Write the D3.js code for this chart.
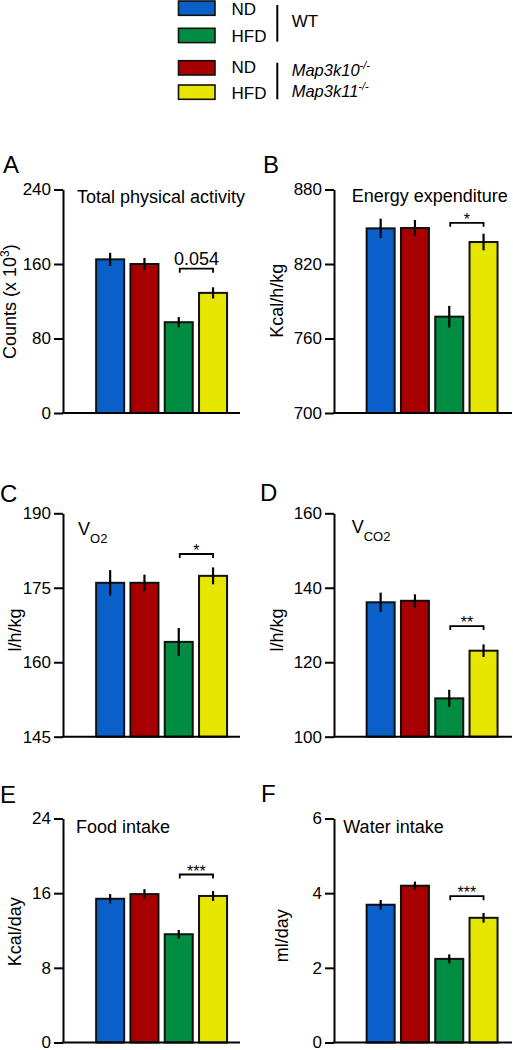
<!DOCTYPE html>
<html><head><meta charset="utf-8">
<script src="https://cdn.jsdelivr.net/npm/d3@7"></script>
<style>
html,body{margin:0;padding:0;background:#fff;}
text{font-family:Arial,"Liberation Sans",Helvetica,sans-serif;fill:#000;}
</style></head>
<body>
<svg id="chart" width="513" height="1050"></svg>
<script>
// ---- data ----
const categories = ["WT ND", "Map3k10/11 ND", "WT HFD", "Map3k10/11 HFD"];
const barColors = ["#0a5fc8", "#a80000", "#008c41", "#e6e600"];

const activityMean = [165, 160, 97.5, 129];
const activitySem  = [7, 6.5, 5.5, 6];
const activityTicks = [0, 80, 160, 240];

const energyMean = [848.7, 849, 777.6, 837.7];
const energySem  = [7.8, 6.4, 8.7, 6.7];
const energyTicks = [700, 760, 820, 880];

const vo2Mean = [176.0, 176.0, 164.1, 177.4];
const vo2Sem  = [2.55, 1.65, 2.8, 1.7];
const vo2Ticks = [145, 160, 175, 190];

const vco2Mean = [136.1, 136.5, 110.3, 123.1];
const vco2Sem  = [2.6, 1.75, 2.3, 1.7];
const vco2Ticks = [100, 120, 140, 160];

const foodMean = [15.4, 15.9, 11.6, 15.7];
const foodSem  = [0.5, 0.53, 0.45, 0.53];
const foodTicks = [0, 8, 16, 24];

const waterMean = [3.69, 4.2, 2.24, 3.34];
const waterSem  = [0.13, 0.11, 0.12, 0.13];
const waterTicks = [0, 2, 4, 6];

const sigLabels = ["0.054", "*", "*", "**", "***", "***"];
const sigLevels = [155, 853.2, 181.8, 129.7, 18.0, 3.92];

const legendDiet = ["ND", "HFD", "ND", "HFD"];

// ---- layout ----
const svg = d3.select("#chart");
const cols = [
  {axisX: 63, xEnd: 240, band: [93, 230.2]},
  {axisX: 334, xEnd: 512, band: [363.5, 500.7]}
];
const rows = [
  {top: 189.5, bottom: 413},
  {top: 513.3, bottom: 736.7},
  {top: 818.5, bottom: 1042.5}
];

const panels = [
  {letter:"A", col:0, row:0, mean:activityMean, sem:activitySem, ticks:activityTicks,
   title:"Total physical activity", ylabel:"Counts", sig:0,
   letterPos:[3,172.7], titlePos:[77,202.7], ylabPos:[16,301.7]},
  {letter:"B", col:1, row:0, mean:energyMean, sem:energySem, ticks:energyTicks,
   title:"Energy expenditure", ylabel:"Kcal/h/kg", sig:1,
   letterPos:[263,173.3], titlePos:[351.7,202], ylabPos:[283,300.8]},
  {letter:"C", col:0, row:1, mean:vo2Mean, sem:vo2Sem, ticks:vo2Ticks,
   title:"V", sub:"O2", ylabel:"l/h/kg", sig:2,
   letterPos:[0,501.7], titlePos:[78,535], ylabPos:[20.5,630]},
  {letter:"D", col:1, row:1, mean:vco2Mean, sem:vco2Sem, ticks:vco2Ticks,
   title:"V", sub:"CO2", ylabel:"l/h/kg", sig:3,
   letterPos:[260,500.7], titlePos:[351.7,533], ylabPos:[283,630]},
  {letter:"E", col:0, row:2, mean:foodMean, sem:foodSem, ticks:foodTicks,
   title:"Food intake", ylabel:"Kcal/day", sig:4,
   letterPos:[0,803.3], titlePos:[76,833.3], ylabPos:[21,931.7]},
  {letter:"F", col:1, row:2, mean:waterMean, sem:waterSem, ticks:waterTicks,
   title:"Water intake", ylabel:"ml/day", sig:5,
   letterPos:[261,801.7], titlePos:[343.3,833.3], ylabPos:[288,935.8]}
];

panels.forEach(p => {
  const c = cols[p.col], r = rows[p.row];
  const g = svg.append("g");
  const y = d3.scaleLinear().domain([p.ticks[0], p.ticks[p.ticks.length-1]]).range([r.bottom, r.top]);
  const x = d3.scaleBand().domain(categories).range(c.band).paddingInner(0.125).paddingOuter(0.0625);

  // bars
  g.selectAll("rect.bar").data(categories).join("rect")
    .attr("class","bar")
    .attr("x", d => x(d) + 1)
    .attr("width", x.bandwidth() - 2)
    .attr("y", (d,i) => y(p.mean[i]))
    .attr("height", (d,i) => y(p.ticks[0]) - y(p.mean[i]))
    .attr("fill", (d,i) => barColors[i])
    .attr("stroke", "#111").attr("stroke-width", 2);

  // error bars
  g.selectAll("line.err").data(categories).join("line")
    .attr("class","err")
    .attr("x1", d => x(d) + x.bandwidth()/2)
    .attr("x2", d => x(d) + x.bandwidth()/2)
    .attr("y1", (d,i) => y(p.mean[i] - p.sem[i]))
    .attr("y2", (d,i) => y(p.mean[i] + p.sem[i]))
    .attr("stroke", "#000").attr("stroke-width", 2.2);

  // y axis
  const ax = g.append("g").attr("transform", `translate(${c.axisX},0)`)
    .call(d3.axisLeft(y).tickValues(p.ticks).tickSize(9).tickSizeOuter(0).tickPadding(3).tickFormat(d3.format("d")));
  ax.select(".domain").attr("stroke","#000").attr("stroke-width",2);
  ax.selectAll(".tick line").attr("stroke","#000").attr("stroke-width",2);
  ax.selectAll(".tick text").style("font-size","17px").attr("fill","#000")
    .style("font-family","Arial, 'Liberation Sans', sans-serif");

  // x axis line
  g.append("line").attr("x1", c.axisX - 1).attr("x2", c.xEnd)
    .attr("y1", y(p.ticks[0])).attr("y2", y(p.ticks[0]))
    .attr("stroke","#000").attr("stroke-width",2);

  // significance bracket
  const xa = x(categories[2]) + x.bandwidth()/2 + 1;
  const xb = x(categories[3]) + x.bandwidth()/2;
  const by = y(sigLevels[p.sig]);
  g.append("path").attr("d", `M${xa},${by+4}V${by}H${xb}V${by+4}`)
    .attr("fill","none").attr("stroke","#000").attr("stroke-width",1.8);
  const lbl = sigLabels[p.sig];
  const isStar = lbl.indexOf("*") >= 0;
  g.append("text").attr("x", (xa+xb)/2).attr("y", isStar ? by + 2 : by - 3.3)
    .attr("text-anchor","middle").style("font-size", isStar ? "16px" : "18px").text(lbl);

  // panel letter
  g.append("text").attr("x", p.letterPos[0]).attr("y", p.letterPos[1])
    .style("font-size","24px").text(p.letter);

  // title
  const t = g.append("text").attr("x", p.titlePos[0]).attr("y", p.titlePos[1]).style("font-size","18px");
  t.append("tspan").text(p.title);
  if (p.sub) t.append("tspan").attr("dy", 8).style("font-size","13px").text(p.sub);

  // y label
  const yl = g.append("text").attr("transform", `translate(${p.ylabPos[0]},${p.ylabPos[1]}) rotate(-90)`)
    .attr("text-anchor","middle").style("font-size","18px");
  yl.append("tspan").text(p.ylabel);
  if (p.letter === "A") {
    yl.append("tspan").text(" (x 10");
    yl.append("tspan").attr("dy",-7).style("font-size","12px").text("3");
    yl.append("tspan").attr("dy",7).text(")");
  }
});

// ---- legend ----
const lg = svg.append("g");
const legRectY = [1, 28.3, 60.7, 85];
const legTextY = [15, 41.7, 73.3, 98.5];
lg.selectAll("rect").data(legendDiet).join("rect")
  .attr("x", 178.5).attr("y", (d,i) => legRectY[i])
  .attr("width", 36.5).attr("height", 14.3)
  .attr("fill", (d,i) => barColors[[0,2,1,3][i]])
  .attr("stroke","#111").attr("stroke-width",1.6);
lg.selectAll("text.diet").data(legendDiet).join("text")
  .attr("class","diet").attr("x", 231.5).attr("y", (d,i) => legTextY[i])
  .style("font-size","17px").text(d => d);
lg.append("line").attr("x1",277.3).attr("x2",277.3).attr("y1",5).attr("y2",41.7).attr("stroke","#000").attr("stroke-width",2);
lg.append("line").attr("x1",277.3).attr("x2",277.3).attr("y1",62.7).attr("y2",99.3).attr("stroke","#000").attr("stroke-width",2);
lg.append("text").attr("x",291.7).attr("y",27.3).style("font-size","17px").text("WT");
[["Map3k10", 76], ["Map3k11", 96.7]].forEach(([g, yy]) => {
  const t = lg.append("text").attr("x",291.7).attr("y",yy).style("font-size","16.5px").style("font-style","italic");
  t.append("tspan").text(g);
  t.append("tspan").attr("dy",-7).style("font-size","11px").text("-/-");
});
</script>
</body></html>
